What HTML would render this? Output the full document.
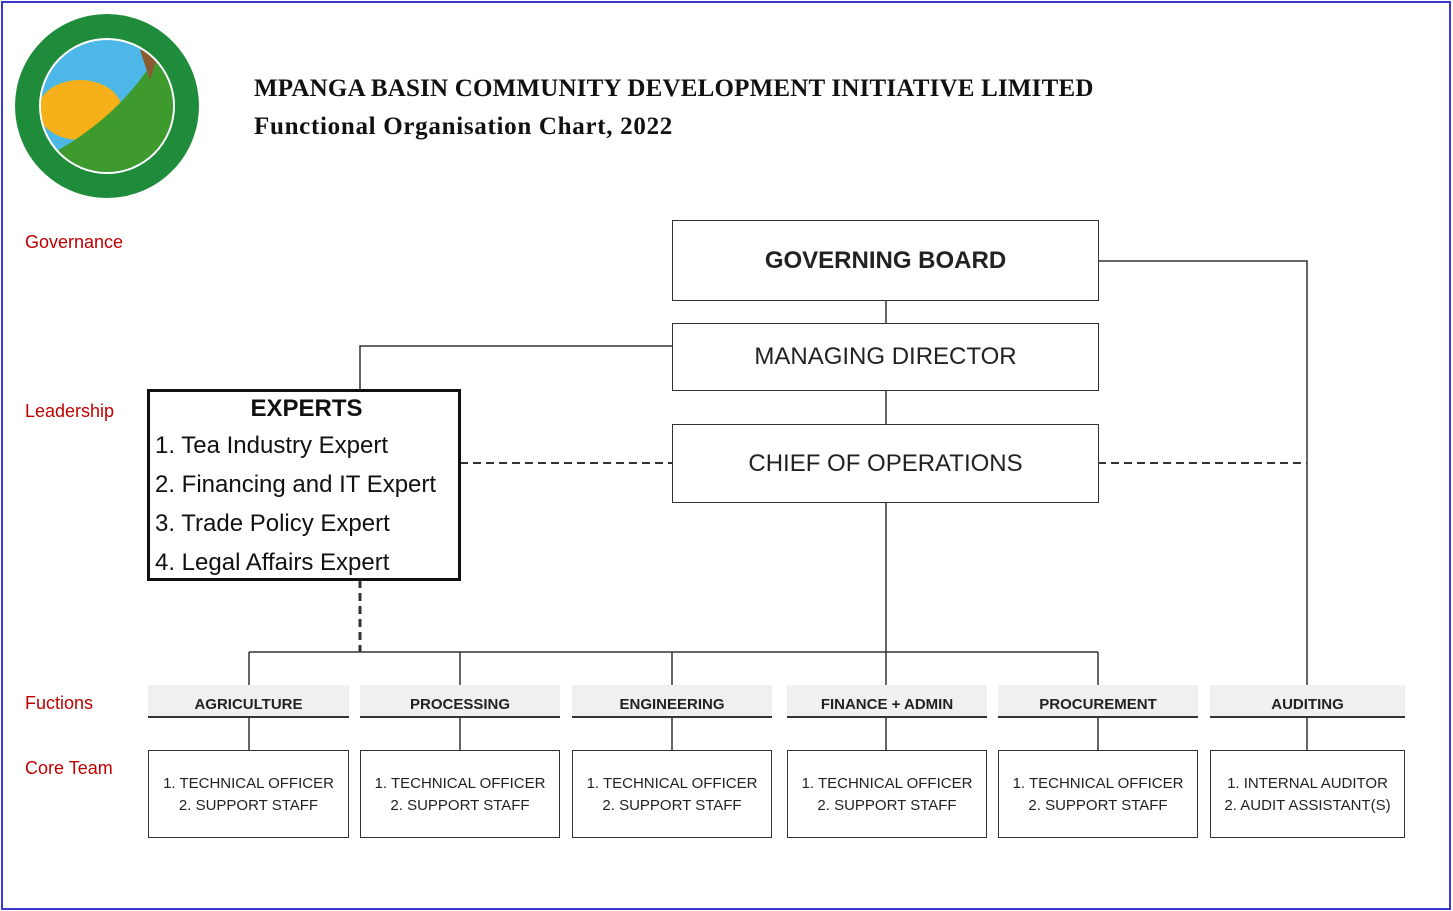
<!DOCTYPE html>
<html><head><meta charset="utf-8"><style>
body{margin:0;width:1453px;height:911px;background:#fff;position:relative;overflow:hidden;font-family:"Liberation Sans",sans-serif}
.a{position:absolute;box-sizing:border-box}
.box{border:1.5px solid #333;display:flex;align-items:center;justify-content:center;color:#222}
.lab{color:#c00000;font-size:18px}
.fh{background:#f0f0f0;border-bottom:2px solid #333;font-weight:bold;font-size:15px;text-align:center;padding-top:11px;color:#222}
.ct{border:1.5px solid #333;font-size:15px;text-align:center;padding-top:22px;line-height:22px;color:#222}
.t{font-family:"Liberation Serif",serif;font-weight:bold;font-size:25px;color:#111;white-space:nowrap}
</style></head><body>
<div class="a" style="left:1px;top:1px;width:1450px;height:909px;border:2px solid #3a3ad0"></div>
<svg class="a" style="left:0;top:0" width="1453" height="911">
<defs><clipPath id="c"><circle cx="107" cy="106" r="66"/></clipPath></defs>
<circle cx="107" cy="106" r="92" fill="#1e8c3a"/>
<circle cx="107" cy="106" r="68" fill="#fff"/>
<g clip-path="url(#c)"><rect x="40" y="40" width="140" height="140" fill="#4db8e8"/>
<ellipse cx="80" cy="110" rx="42" ry="30" fill="#f5b01a"/>
<path d="M40 160 Q120 120 160 50 L190 50 L190 190 L40 190Z" fill="#3f9a2e"/>
<path d="M140 50 L160 50 L150 80Z" fill="#8a5a30"/></g>
<g stroke="#333" stroke-width="1.5" fill="none">
<path d="M886 300V323M886 390V424M886 502V652M249 652H1098M249 652V685M460 652V685M672 652V685M886 652V685M1098 652V685"/>
<path d="M672 346H360V390M1098 261H1307V685"/>
<path d="M249 717V750M460 717V750M672 717V750M886 717V750M1098 717V750M1307 717V750"/>
<path d="M460 463H672M1098 463H1307" stroke-dasharray="8 5" stroke-width="2"/>
<path d="M360 580V652" stroke-dasharray="8 5" stroke-width="3"/>
</g></svg>
<div class="a t" style="left:254px;top:75px;letter-spacing:0.2px">MPANGA BASIN COMMUNITY DEVELOPMENT INITIATIVE LIMITED</div>
<div class="a t" style="left:254px;top:113px;letter-spacing:0.7px">Functional Organisation Chart, 2022</div>
<div class="a lab" style="left:25px;top:232px">Governance</div>
<div class="a lab" style="left:25px;top:401px">Leadership</div>
<div class="a lab" style="left:25px;top:693px">Fuctions</div>
<div class="a lab" style="left:25px;top:758px">Core Team</div>
<div class="a box" style="left:672px;top:220px;width:427px;height:81px;font-weight:bold;font-size:24px">GOVERNING BOARD</div>
<div class="a box" style="left:672px;top:323px;width:427px;height:68px;font-size:24px">MANAGING DIRECTOR</div>
<div class="a box" style="left:672px;top:424px;width:427px;height:79px;font-size:24px">CHIEF OF OPERATIONS</div>
<div class="a" style="left:147px;top:389px;width:314px;height:192px;border:3px solid #111;font-size:24px;color:#111;line-height:39px;padding-left:5px">
<div style="text-align:center;font-weight:bold;line-height:34px">EXPERTS</div>
<div>1. Tea Industry Expert</div><div>2. Financing and IT Expert</div><div>3. Trade Policy Expert</div><div>4. Legal Affairs Expert</div></div>
<div class="a fh" style="left:148px;top:685px;width:201px;height:33px">AGRICULTURE</div>
<div class="a fh" style="left:360px;top:685px;width:200px;height:33px">PROCESSING</div>
<div class="a fh" style="left:572px;top:685px;width:200px;height:33px">ENGINEERING</div>
<div class="a fh" style="left:787px;top:685px;width:200px;height:33px">FINANCE + ADMIN</div>
<div class="a fh" style="left:998px;top:685px;width:200px;height:33px">PROCUREMENT</div>
<div class="a fh" style="left:1210px;top:685px;width:195px;height:33px">AUDITING</div>
<div class="a ct" style="left:148px;top:750px;width:201px;height:88px">1. TECHNICAL OFFICER<br>2. SUPPORT STAFF</div>
<div class="a ct" style="left:360px;top:750px;width:200px;height:88px">1. TECHNICAL OFFICER<br>2. SUPPORT STAFF</div>
<div class="a ct" style="left:572px;top:750px;width:200px;height:88px">1. TECHNICAL OFFICER<br>2. SUPPORT STAFF</div>
<div class="a ct" style="left:787px;top:750px;width:200px;height:88px">1. TECHNICAL OFFICER<br>2. SUPPORT STAFF</div>
<div class="a ct" style="left:998px;top:750px;width:200px;height:88px">1. TECHNICAL OFFICER<br>2. SUPPORT STAFF</div>
<div class="a ct" style="left:1210px;top:750px;width:195px;height:88px">1. INTERNAL AUDITOR<br>2. AUDIT ASSISTANT(S)</div>
</body></html>
